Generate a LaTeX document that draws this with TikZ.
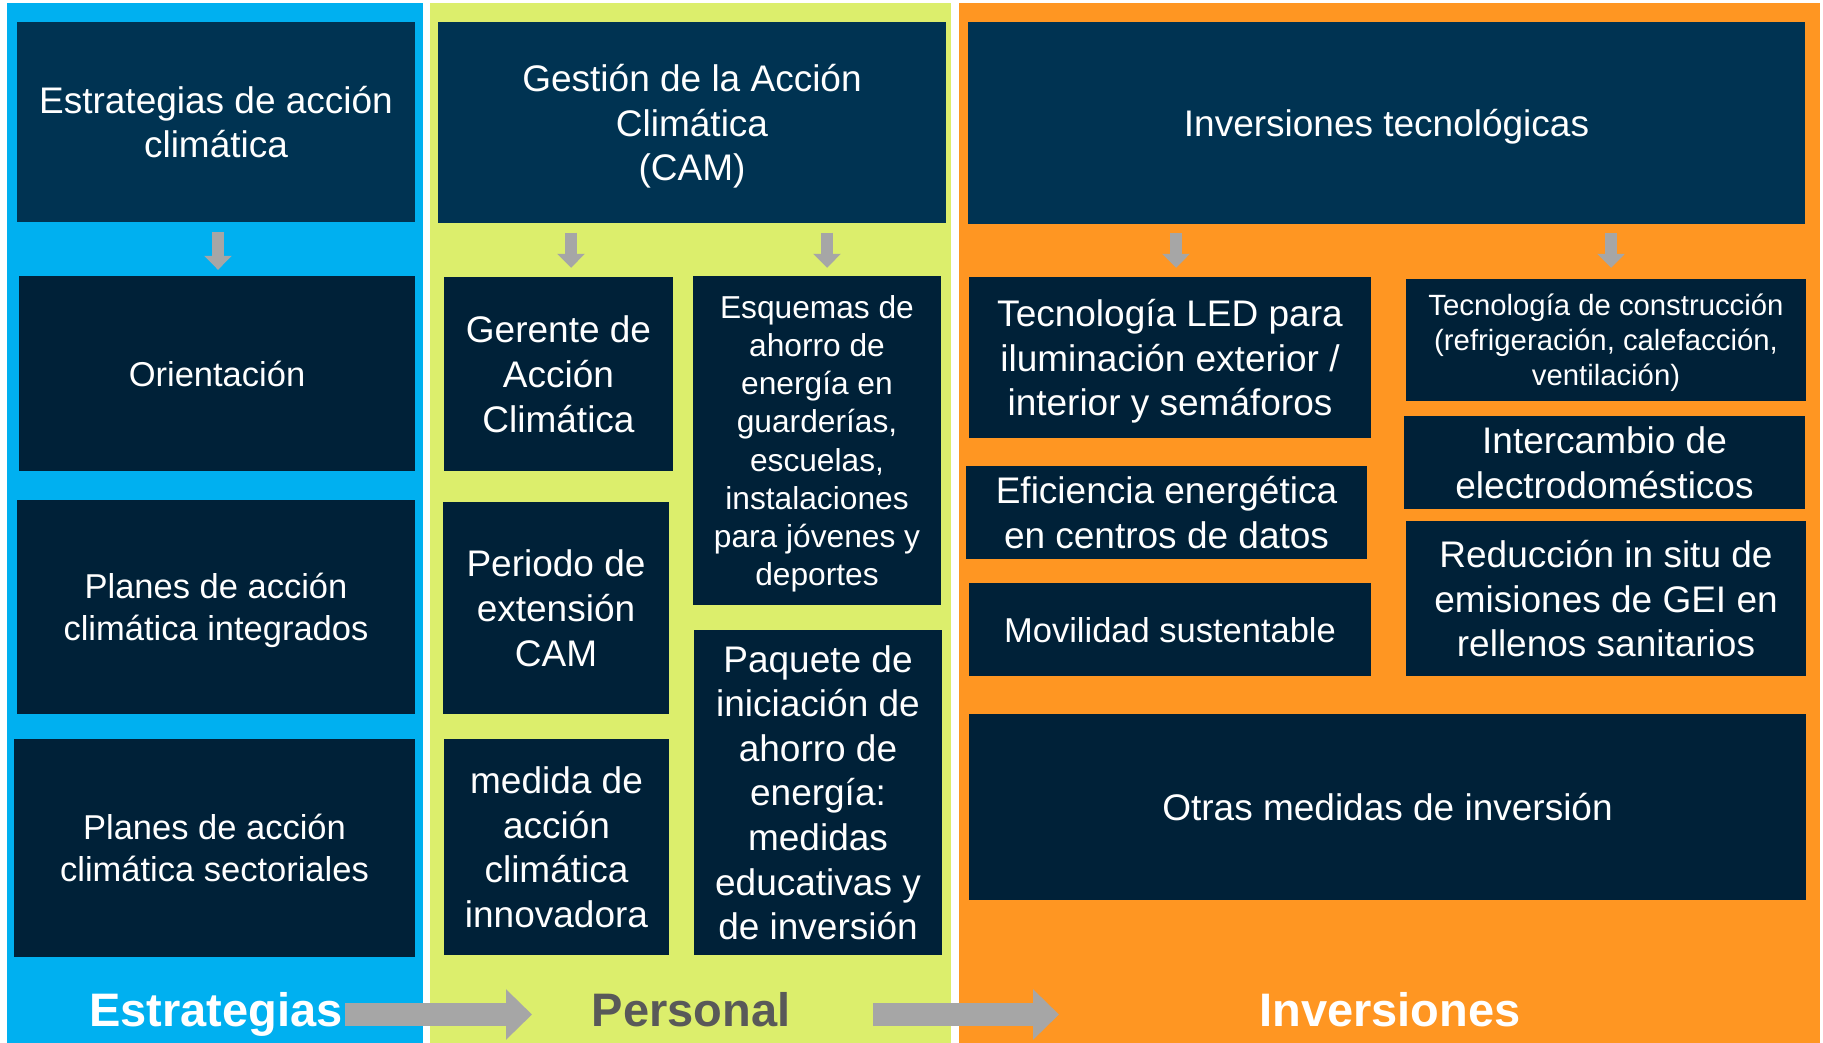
\documentclass[tikz,border=0pt]{standalone}
\usepackage{fontspec}
\setmainfont{Liberation Sans}
\usetikzlibrary{arrows.meta,calc}
\definecolor{cblue}{RGB}{0,176,240}
\definecolor{cgreen}{RGB}{220,238,108}
\definecolor{corange}{RGB}{255,150,34}
\definecolor{navyA}{RGB}{0,51,82}
\definecolor{navyB}{RGB}{0,33,56}
\definecolor{agray}{RGB}{166,166,166}
\definecolor{lgray}{RGB}{89,89,89}
\tikzset{
  box/.style={fill=navyB, text=white, inner sep=0pt, align=center, text depth=0pt, font=\fontsize{37}{44.6}\selectfont},
  topbox/.style={box, fill=navyA},
  midfont/.style={font=\fontsize{34.5}{41.6}\selectfont},
  smallfont/.style={font=\fontsize{31.7}{38.2}\selectfont},
  tinyfont/.style={font=\fontsize{29.3}{35}\selectfont},
  lbl/.style={inner sep=0pt, anchor=base, font=\fontsize{47}{56}\selectfont\bfseries},
  smallarrow/.style={draw=agray, line width=12pt, -{Triangle[width=27pt,length=14pt]}},
  bigarrow/.style={draw=agray, line width=23.5pt, -{Triangle[width=49pt,length=26pt]}},
}
\begin{document}
\begin{tikzpicture}[x=1pt,y=-1pt]
\useasboundingbox (0,0) rectangle (1823,1043);
\fill[white] (0,0) rectangle (1823,1043);
% panels
\fill[cblue] (7,3) rectangle (423,1043);
\fill[cgreen] (430,3) rectangle (951,1043);
\fill[corange] (959,3) rectangle (1820,1043);

% blue column
\node[topbox, minimum width=398pt, minimum height=200pt] (b1) at (216,122) {Estrategias de acción\\climática};
\node[box, midfont, minimum width=396pt, minimum height=195pt] (b2) at (217,373.5) {Orientación};
\node[box, midfont, minimum width=398pt, minimum height=214pt] (b3) at (216,607) {Planes de acción\\climática integrados};
\node[box, midfont, minimum width=401pt, minimum height=218pt] (b4) at (214.5,848) {Planes de acción\\climática sectoriales};

% green column
\node[topbox, minimum width=508pt, minimum height=201pt] (cam) at (692,122.5) {Gestión de la Acción\\Climática\\(CAM)};
\node[box, minimum width=229pt, minimum height=194pt] (g1) at (558.5,374) {Gerente de\\Acción\\Climática};
\node[box, smallfont, minimum width=248pt, minimum height=329pt] (g2) at (817,440.5) {Esquemas de\\ahorro de\\energía en\\guarderías,\\escuelas,\\instalaciones\\para jóvenes y\\deportes};
\node[box, minimum width=226pt, minimum height=212pt] (g3) at (556,608) {Periodo de\\extensión\\CAM};
\node[box, minimum width=248pt, minimum height=325pt] (g4) at (818,792.5) {Paquete de\\iniciación de\\ahorro de\\energía:\\medidas\\educativas y\\de inversión};
\node[box, minimum width=225pt, minimum height=216pt] (g5) at (556.5,847) {medida de\\acción\\climática\\innovadora};

% orange column
\node[topbox, minimum width=837pt, minimum height=202pt] (inv) at (1386.5,123) {Inversiones tecnológicas};
\node[box, minimum width=402pt, minimum height=161pt] (o1) at (1170,357.5) {Tecnología LED para\\iluminación exterior /\\interior y semáforos};
\node[box, tinyfont, minimum width=400pt, minimum height=122pt] (o2) at (1606,340) {Tecnología de construcción\\(refrigeración, calefacción,\\ventilación)};
\node[box, minimum width=401pt, minimum height=93pt] (o3) at (1604.5,462.5) {Intercambio de\\electrodomésticos};
\node[box, minimum width=401pt, minimum height=93pt] (o4) at (1166.5,512.5) {Eficiencia energética\\en centros de datos};
\node[box, minimum width=400pt, minimum height=155pt] (o5) at (1606,598.5) {Reducción in situ de\\emisiones de GEI en\\rellenos sanitarios};
\node[box, midfont, minimum width=402pt, minimum height=93pt] (o6) at (1170,629.5) {Movilidad sustentable};
\node[box, minimum width=837pt, minimum height=186pt] (o7) at (1387.5,807) {Otras medidas de inversión};

% small arrows
\draw[smallarrow] ($(b1.south -| b2.north)+(1,10)$) -- ($(b2.north)+(1,-6)$);
\draw[smallarrow] ($(cam.south -| g1.north)+(12.5,9.5)$) -- ($(g1.north)+(12.5,-9)$);
\draw[smallarrow] ($(cam.south -| g2.north)+(10,9.5)$) -- ($(g2.north)+(10,-8)$);
\draw[smallarrow] ($(inv.south -| o1.north)+(6,9)$) -- ($(o1.north)+(6,-9)$);
\draw[smallarrow] ($(inv.south -| o2.north)+(5,9)$) -- ($(o2.north)+(5,-11)$);

% bottom labels
\node[lbl, text=white] (lE) at (216,1026) {Estrategias};
\node[lbl, text=lgray] (lP) at (691,1026) {Personal};
\node[lbl, text=white] (lI) at (1390,1026) {Inversiones};

% big arrows
\coordinate (ba1s) at (345,1014.5);
\coordinate (ba1e) at (532,1014.5);
\coordinate (ba2s) at (873,1014.5);
\coordinate (ba2e) at (1059,1014.5);
\draw[bigarrow] (ba1s) -- (ba1e);
\draw[bigarrow] (ba2s) -- (ba2e);
\end{tikzpicture}
\end{document}
